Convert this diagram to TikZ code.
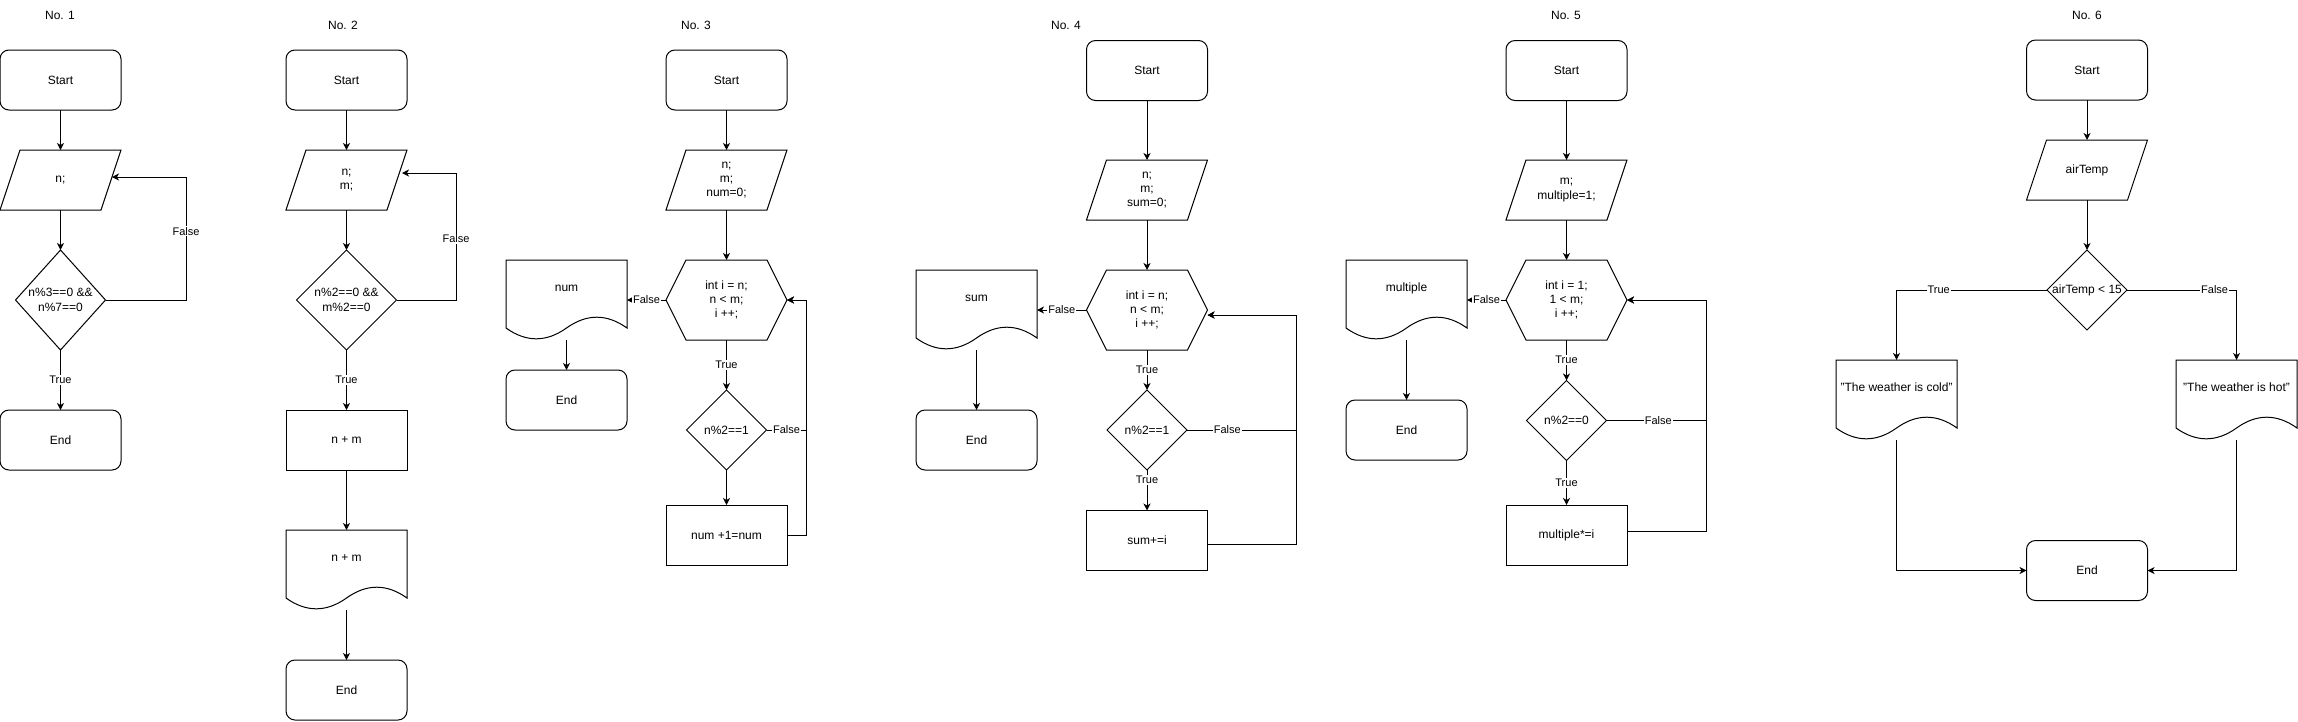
\documentclass[tikz,border=0pt]{standalone}
\usepackage{fontspec}
\setmainfont{Liberation Sans}
\usetikzlibrary{arrows.meta,calc}
\tikzset{
  base/.style={inner sep=0pt, outer sep=0pt, font=\fontsize{12}{14.4}\selectfont, align=center},
  term/.style={base, draw, line width=1pt, rounded corners=9pt, minimum width=121pt, minimum height=60pt},
  proc/.style={base, draw, line width=1pt, minimum width=121pt, minimum height=60pt},
  io/.style={base, minimum width=121pt, minimum height=60pt},
  hexa/.style={base, minimum width=121pt, minimum height=80pt},
  dec/.style={base, minimum width=80pt, minimum height=80pt},
  docu/.style={inner sep=0pt, outer sep=0pt, font=\fontsize{12}{14.4}\selectfont, minimum width=121pt, minimum height=80pt, text height=9pt, text depth=26pt},
  ttl/.style={font=\fontsize{12}{14.4}\selectfont, inner sep=0pt},
  shp/.style={line width=1pt, line join=miter},
  arr/.style={line width=1pt, -{Stealth[length=7pt,width=7pt,inset=2pt]}},
  ln/.style={line width=1pt},
  lbl/.style={fill=white, inner sep=1pt, font=\fontsize{11}{13}\selectfont},
}
\newcommand\drawpara[1]{\draw[shp] ($(#1.north west)+(20,0)$) -- (#1.north east) -- ($(#1.south east)+(-20,0)$) -- (#1.south west) -- cycle;}
\newcommand\drawhex[1]{\draw[shp] (#1.west) -- ($(#1.north west)+(20,0)$) -- ($(#1.north east)+(-20,0)$) -- (#1.east) -- ($(#1.south east)+(-20,0)$) -- ($(#1.south west)+(20,0)$) -- cycle;}
\newcommand\drawdia[1]{\draw[shp] (#1.north) -- (#1.east) -- (#1.south) -- (#1.west) -- cycle;}
\newcommand\drawdoc[1]{\draw[shp] (#1.north west) -- (#1.north east) -- ($(#1.south east)+(0,-12)$)
  .. controls ($(#1.south east)+(-20.17,-26.4)$) and ($(#1.south east)+(-40.33,-26.4)$) .. ($(#1.south)+(0,-12)$)
  .. controls ($(#1.south west)+(40.33,2.4)$) and ($(#1.south west)+(20.17,2.4)$) .. ($(#1.south west)+(0,-12)$) -- cycle;}
\begin{document}
\begin{tikzpicture}[x=1pt,y=-1pt]
\useasboundingbox (0,0) rectangle (2298,721);
% ---------- No. 1
\node[ttl] (t1) at (60,15) {No. 1};
\node[term] (s1) at (60.5,80) {Start};
\node[io] (p1) at (60.5,180) {n;};
\node[dec, minimum width=90pt, minimum height=100pt] (d1) at (60.5,300) {n\%3==0 \&\&\\n\%7==0};
\node[term] (e1) at (60.5,440) {End};
\drawpara{p1}\drawdia{d1}
\draw[arr] (s1.south) -- (p1.north);
\draw[arr] (p1.south) -- (d1.north);
\draw[arr] (d1.east) -- ++(80.5,0) |- node[lbl,pos=0.28] (f1) {False} ($(p1.east)+(-9,-3)$);
\draw[arr] (d1.south) -- node[lbl] (tr1) {True} (e1.north);
% ---------- No. 2
\node[ttl] (t2) at (343,25) {No. 2};
\node[term] (s2) at (346.5,80) {Start};
\node[io] (p2) at (346.5,180) {n;\\m;};
\node[dec, minimum width=100pt, minimum height=100pt] (d2) at (346.5,300) {n\%2==0 \&\&\\m\%2==0};
\node[proc] (r2) at (346.5,440) {n + m};
\node[docu] (o2) at (346.5,570) {n + m};
\node[term] (e2) at (346.5,690) {End};
\drawpara{p2}\drawdia{d2}\drawdoc{o2}
\draw[arr] (s2.south) -- (p2.north);
\draw[arr] (p2.south) -- (d2.north);
\draw[arr] (d2.east) -- ++(59.5,0) |- node[lbl,pos=0.24] (f2) {False} ($(p2.east)+(-5,-7)$);
\draw[arr] (d2.south) -- node[lbl] (tr2) {True} (r2.north);
\draw[arr] (r2.south) -- (o2.north);
\draw[arr] (o2.south) -- (e2.north);
% ---------- No. 3
\node[ttl] (t3) at (696,25) {No. 3};
\node[term] (s3) at (726.5,80) {Start};
\node[io] (p3) at (726.5,180) {n;\\m;\\num=0;};
\node[hexa] (h3) at (726.5,300) {int i = n;\\n < m;\\i ++;};
\node[docu] (o3) at (566.5,300) {num};
\node[term] (e3) at (566.5,400) {End};
\node[dec] (d3) at (726.5,430) {n\%2==1};
\node[proc] (r3) at (726.5,535) {num +1=num};
\drawpara{p3}\drawhex{h3}\drawdoc{o3}\drawdia{d3}
\draw[arr] (s3.south) -- (p3.north);
\draw[arr] (p3.south) -- (h3.north);
\draw[arr] (h3.west) -- node[lbl] (f3a) {False} (o3.east);
\draw[arr] (o3.south) -- (e3.north);
\draw[arr] (h3.south) -- node[lbl] (tr3) {True} (d3.north);
\draw[arr] (d3.east) -- node[lbl] (f3b) {False} ++(40,0) |- (h3.east);
\draw[arr] (d3.south) -- (r3.north);
\draw[arr] (r3.east) -- ++(19.5,0) |- (h3.east);
% ---------- No. 4
\node[ttl] (t4) at (1066,25) {No. 4};
\node[term] (s4) at (1147,70.5) {Start};
\node[io] (p4) at (1147,190) {n;\\m;\\sum=0;};
\node[hexa] (h4) at (1147,310) {int i = n;\\n < m;\\i ++;};
\node[docu] (o4) at (976.5,310) {sum};
\node[term] (e4) at (976.5,440) {End};
\node[dec] (d4) at (1147,430) {n\%2==1};
\node[proc] (r4) at (1147,540.5) {sum+=i};
\drawpara{p4}\drawhex{h4}\drawdoc{o4}\drawdia{d4}
\draw[arr] (s4.south) -- (p4.north);
\draw[arr] (p4.south) -- (h4.north);
\draw[arr] (h4.west) -- node[lbl] (f4a) {False} (o4.east);
\draw[arr] (o4.south) -- (e4.north);
\draw[arr] (h4.south) -- node[lbl] (tr4a) {True} (d4.north);
\draw[arr] (d4.east) -- node[lbl,pos=0.37] (f4b) {False} ++(109,0) |- ($(h4.east)+(0,5)$);
\draw[arr] (d4.south) -- node[lbl,pos=0.25] (tr4b) {True} (r4.north);
\draw[arr] ($(r4.east)+(0,4)$) -- ++(89,0) |- ($(h4.east)+(0,5)$);
% ---------- No. 5
\node[ttl] (t5) at (1566,15) {No. 5};
\node[term] (s5) at (1566.5,70.5) {Start};
\node[io] (p5) at (1566.5,190) {m;\\multiple=1;};
\node[hexa] (h5) at (1566.5,300) {int i = 1;\\1 < m;\\i ++;};
\node[docu] (o5) at (1406.5,300) {multiple};
\node[term] (e5) at (1406.5,430) {End};
\node[dec] (d5) at (1566.5,420.5) {n\%2==0};
\node[proc] (r5) at (1566.5,535) {multiple*=i};
\drawpara{p5}\drawhex{h5}\drawdoc{o5}\drawdia{d5}
\draw[arr] (s5.south) -- (p5.north);
\draw[arr] (p5.south) -- (h5.north);
\draw[arr] (h5.west) -- node[lbl] (f5a) {False} (o5.east);
\draw[arr] (o5.south) -- (e5.north);
\draw[arr] (h5.south) -- node[lbl] (tr5a) {True} (d5.north);
\draw[arr] (d5.east) -- node[lbl,pos=0.52] (f5b) {False} ++(99.5,0) |- (h5.east);
\draw[arr] (d5.south) -- node[lbl] (tr5b) {True} (r5.north);
\draw[arr] ($(r5.east)+(0,-4)$) -- ++(79,0) |- (h5.east);
% ---------- No. 6
\node[ttl] (t6) at (2087,15) {No. 6};
\node[term] (s6) at (2087,70) {Start};
\node[io] (p6) at (2087,170) {airTemp};
\node[dec] (d6) at (2087,290) {airTemp < 15};
\node[docu] (o6a) at (1896.5,400) {"The weather is cold"};
\node[docu] (o6b) at (2236.5,400) {"The weather is hot"};
\node[term] (e6) at (2087,570.5) {End};
\drawpara{p6}\drawdia{d6}\drawdoc{o6a}\drawdoc{o6b}
\draw[arr] (s6.south) -- (p6.north);
\draw[arr] (p6.south) -- (d6.north);
\draw[arr] (d6.west) -| node[lbl,pos=0.36] (tr6) {True} (o6a.north);
\draw[arr] (d6.east) -| node[lbl,pos=0.4] (f6) {False} (o6b.north);
\draw[arr] (o6a.south) |- (e6.west);
\draw[arr] (o6b.south) |- (e6.east);
\end{tikzpicture}
\end{document}
